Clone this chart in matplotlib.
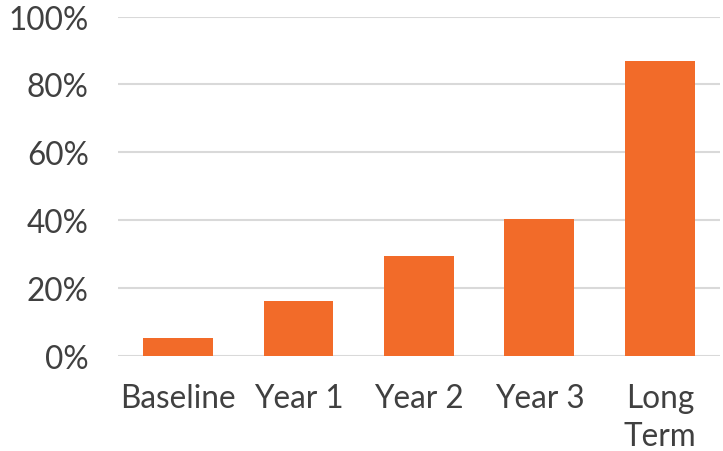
import matplotlib.pyplot as plt
from matplotlib.ticker import FuncFormatter

categories = ["Baseline", "Year 1", "Year 2", "Year 3", "Long\nTerm"]
values = [5.2, 16.0, 29.5, 40.4, 86.9]
yticks = [0, 20, 40, 60, 80, 100]

bar_colour = "#F26B29"
text_colour = "#404040"
grid_colour = "#D9D9D9"

plt.rcParams['font.family'] = ['Lato', 'DejaVu Sans']

fig = plt.figure(figsize=(7.23, 4.52), dpi=100)
ax = fig.add_axes([0.163, 0.2108, 0.833, 0.7502])

x = range(len(categories))
ax.bar(x, values, width=0.58, color=bar_colour, zorder=3)

ax.set_xlim(-0.5, len(categories) - 0.5)
ax.set_ylim(0, 100)
ax.set_yticks(yticks)
ax.yaxis.set_major_formatter(FuncFormatter(lambda v, _: f"{v:.0f}%"))
ax.set_xticks(list(x))
ax.set_xticklabels(categories, linespacing=1.32)

ax.grid(axis='y', color=grid_colour, linewidth=1.5, zorder=0)
ax.set_axisbelow(True)
for s in ax.spines.values():
    s.set_visible(False)

ax.tick_params(axis='y', length=0, pad=21, labelsize=22.7, labelcolor=text_colour)
ax.tick_params(axis='x', length=0, pad=20, labelsize=22.7, labelcolor=text_colour)

fig.savefig("out.png", dpi=100)
